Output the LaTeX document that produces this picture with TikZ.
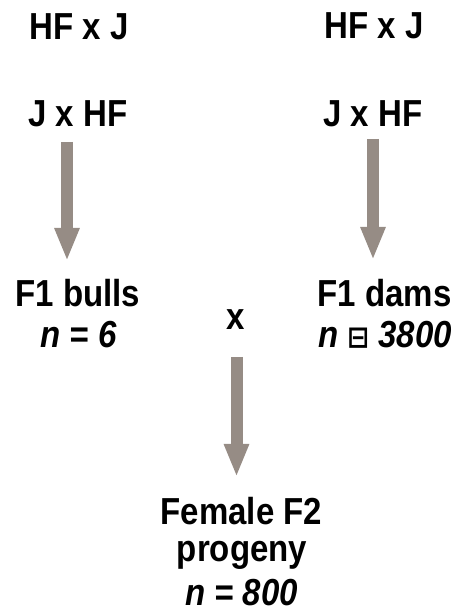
\documentclass[tikz,border=0pt]{standalone}
\usepackage{fontspec}
\setmainfont{Liberation Sans}
\newfontfamily\dvsans{DejaVu Sans}
\usetikzlibrary{arrows.meta}
\definecolor{arrowgray}{RGB}{150,140,133}
\tikzset{
  txt/.style={anchor=base, inner sep=0pt, font=\fontsize{33}{40}\selectfont\bfseries, yscale=1.14, transform shape},
  itxt/.style={txt, font=\fontsize{33}{40}\selectfont\bfseries\itshape},
  bigarrow/.style={draw=arrowgray, line width=12pt, -{Triangle[length=33pt,width=23pt]}}
}
\begin{document}
\begin{tikzpicture}[x=1pt,y=1pt]
\useasboundingbox (0,0) rectangle (455,611);
% top crosses
\node[txt] (hfjL) at (79,571) {HF x J};
\node[txt] (hfjR) at (374,572) {HF x J};
\node[txt] (jhfL) at (78,484) {J x HF};
\node[txt] (jhfR) at (373,484) {J x HF};
% F1
\node[txt] (bulls) at (78,304) {F1 bulls};
\node[itxt] (nbulls) at (78.5,263) {n = 6};
\node[txt] (dams) at (384.5,304) {F1 dams};
\node[itxt] (ndams) at (385,263) {n {\upshape\dvsans\fontsize{26}{30}\selectfont\bfseries ⊟} 3800};
\node[txt] (cross) at (236,281) {x};
% F2
\node[txt] (fem) at (241.5,86) {Female F2};
\node[txt] (prog) at (242,49) {progeny};
\node[itxt] (n800) at (241.5,5) {n = 800};
% arrows
\coordinate (l1) at (67,469);
\coordinate (l2) at (67,350);
\coordinate (r1) at (373,472);
\coordinate (r2) at (373,351);
\coordinate (m1) at (236.5,254);
\coordinate (m2) at (236.5,134);
\draw[bigarrow] (l1) -- (l2);
\draw[bigarrow] (r1) -- (r2);
\draw[bigarrow] (m1) -- (m2);
\end{tikzpicture}
\end{document}
